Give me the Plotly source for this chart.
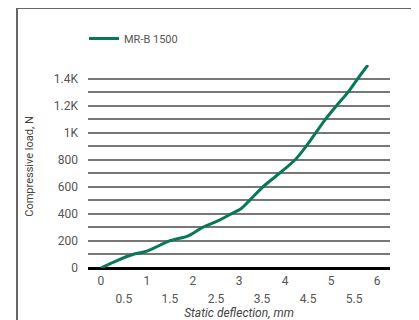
import plotly.graph_objects as go

# Data
deflection_mm = [0, 0.35, 0.69, 1.0, 1.49, 1.9, 2.21, 2.55, 2.83, 3.05, 3.23, 3.52, 3.88, 4.22, 4.46, 4.67, 4.88, 5.12, 5.37, 5.58, 5.8]
load_n = [0, 55, 100, 125, 200, 238, 300, 350, 400, 440, 500, 600, 700, 800, 900, 1000, 1100, 1200, 1300, 1400, 1500]
series_name = "MR-B 1500"

x_major_vals = [0, 1, 2, 3, 4, 5, 6]
x_major_text = ["0", "1", "2", "3", "4", "5", "6"]
x_half_vals = [0.5, 1.5, 2.5, 3.5, 4.5, 5.5]
x_half_text = ["0.5", "1.5", "2.5", "3.5", "4.5", "5.5"]
y_tick_vals = list(range(0, 1600, 100))
y_tick_text = ["0", "", "200", "", "400", "", "600", "", "800", "", "1K", "", "1.2K", "", "1.4K", ""]

# page body has an 8px margin, so the figure is laid out in shifted pixels
OFF = 8
W, H = 419 - OFF, 320 - OFF
L, R, T, B = 80, 29, 57, 52
pw, ph = W - L - R, H - T - B

def px_x(p):
    return (p - OFF - L) / pw

def px_y(p):
    return (H - B - (p - OFF)) / ph

XR = [-0.28, 6.28]

fig = go.Figure()
fig.add_trace(go.Scatter(
    x=deflection_mm, y=load_n, mode="lines", name=series_name,
    line=dict(color="#08775a", width=3, shape="spline", smoothing=0.8),
))
fig.add_trace(go.Scatter(
    x=[deflection_mm[0]], y=[load_n[0]], xaxis="x2", mode="markers",
    marker=dict(opacity=0), showlegend=False, hoverinfo="skip",
))

fig.update_layout(
    width=W, height=H,
    margin=dict(l=L, r=R, t=T, b=B, autoexpand=False),
    paper_bgcolor="white", plot_bgcolor="white",
    font=dict(family="Roboto, Open Sans, sans-serif", size=12, color="#555"),
    showlegend=True,
    legend=dict(x=px_x(84), y=px_y(24), xanchor="left", yanchor="top",
                orientation="h", itemwidth=30, bgcolor="rgba(0,0,0,0)",
                font=dict(size=11, color="#555")),
    xaxis=dict(range=XR, tickvals=x_major_vals, ticktext=x_major_text,
               showgrid=False, zeroline=False, showline=False, ticks="",
               automargin=False, ticklabelstandoff=4,
               tickfont=dict(size=12, color="#555")),
    xaxis2=dict(range=XR, overlaying="x", side="bottom", anchor="y",
                tickvals=x_half_vals, ticktext=x_half_text,
                showgrid=False, zeroline=False, showline=False, ticks="",
                automargin=False, ticklabelstandoff=22,
                tickfont=dict(size=12, color="#555"),
                title=dict(text="<i>Static deflection, mm</i>", standoff=2,
                           font=dict(size=12, color="#444"))),
    yaxis=dict(range=[0, 1500], tickvals=y_tick_vals, ticktext=y_tick_text,
               showgrid=True, gridcolor="#777", gridwidth=2,
               zeroline=True, zerolinecolor="#000", zerolinewidth=2.5,
               showline=False, ticks="", ticklabelstandoff=9, automargin=False,
               tickfont=dict(size=12, color="#555"),
               title=dict(text="Compressive load, N", standoff=17,
                          font=dict(size=11, color="#444"))),
    shapes=[dict(type="rect", xref="paper", yref="paper",
                 x0=px_x(17), x1=px_x(415), y0=px_y(340), y1=px_y(8),
                 line=dict(color="#666", width=2), layer="below")],
)

fig.write_html("out.html")
